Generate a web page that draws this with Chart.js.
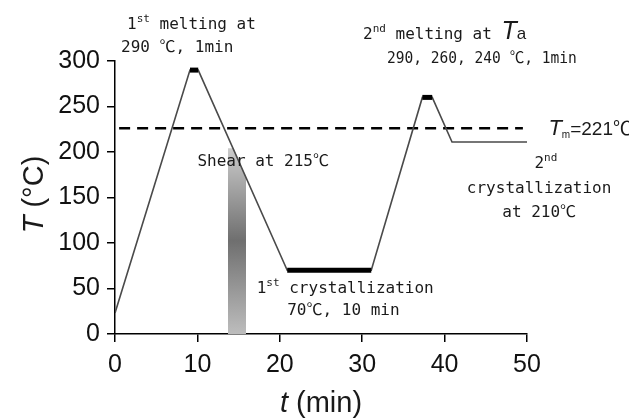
<!DOCTYPE html>
<html lang="en">
<head>
    <meta charset="UTF-8">
    <title>Thermal protocol</title>
    <style>
        body{
            margin: 0;
            background: #ffffff;
        }
    </style>
</head>
<body>
    <canvas id="grafik" width="629" height="418"></canvas>

    <script src="https://cdn.jsdelivr.net/npm/chart.js"></script>

    <script>
        // temperature program, t in min, T in degC
        const curveTime = [0, 9.1, 10.1, 20.9, 31.1, 37.3, 38.5, 40.9, 50]
        const curveTemp = [23, 290, 290, 70, 70, 260, 260, 211, 211]

        // isothermal holds drawn thick
        const hold1Time = [9.1, 10.1]
        const hold1Temp = [290, 290]
        const hold2Time = [20.9, 31.1]
        const hold2Temp = [70, 70]
        const hold3Time = [37.3, 38.5]
        const hold3Temp = [260, 260]

        // Tm line
        const tmTime = [0.5, 49.5]
        const tmTemp = [226, 226]

        // shear window
        const shearTime = [13.7, 14.4, 15.9]
        const shearTemp = [204, 204, 172]

        const xTicks = [0, 10, 20, 30, 40, 50]
        const yTicks = [0, 50, 100, 150, 200, 250, 300]

        function pts(xs, ys){
            return xs.map((x, i) => ({x: x, y: ys[i]}))
        }

        const mono = '"DejaVu Sans Mono", monospace'
        const sans = '"Liberation Sans", Arial, sans-serif'
        const cjk = '"Noto Sans CJK JP", sans-serif'
        const st = {
            m:   {font: '16px ' + mono, dy: 0},
            c:   {font: '16px ' + cjk, dy: 0},
            sup: {font: '11px ' + mono, dy: -7},
            ti:  {font: 'italic 25px ' + sans, dy: 0},
            a:   {font: '17px ' + sans, dy: 0},
            tm:  {font: 'italic 22px ' + sans, dy: 0},
            sub: {font: '10px ' + sans, dy: 3},
            s20: {font: '19px ' + sans, dy: 0},
            c20: {font: '19px ' + cjk, dy: 0}
        }

        // notes, anchored in data coordinates (left, baseline)
        const notes = [
            {t: 1.46, T: 335, runs: [['1','m'],['st','sup'],[' melting at','m']]},
            {t: 0.73, T: 310, runs: [['290 ','m'],['℃','c'],[', 1min','m']]},
            {t: 30.1, T: 324, runs: [['2','m'],['nd','sup'],[' melting at ','m'],['T','ti'],['a','a']]},
            {t: 33.0, T: 298, sx: 0.91, runs: [['290, 260, 240 ','m'],['℃','c'],[', 1min','m']]},
            {t: 52.6, T: 219, runs: [['T','tm'],['m','sub'],['=221','s20'],['℃','c20']]},
            {t: 50.9, T: 182, runs: [['2','m'],['nd','sup']]},
            {t: 42.7, T: 155, runs: [['crystallization','m']]},
            {t: 47.0, T: 129, runs: [['at 210','m'],['℃','c']]},
            {t: 10.0, T: 185, runs: [['Shear at 215','m'],['℃','c']]},
            {t: 17.2, T: 45,  runs: [['1','m'],['st','sup'],[' crystallization','m']]},
            {t: 20.9, T: 21,  runs: [['70','m'],['℃','c'],[', 10 min','m']]}
        ]

        const notesPlugin = {
            id: 'notes',
            afterDraw(chart){
                const c = chart.ctx
                const xs = chart.scales.x
                const ys = chart.scales.y
                c.save()
                c.fillStyle = '#1a1a1a'
                c.textBaseline = 'alphabetic'
                c.textAlign = 'left'
                notes.forEach(n => {
                    c.save()
                    c.translate(xs.getPixelForValue(n.t), ys.getPixelForValue(n.T))
                    c.scale(n.sx || 1, 1)
                    let px = 0
                    n.runs.forEach(r => {
                        const s = st[r[1]]
                        c.font = s.font
                        c.fillText(r[0], px, s.dy)
                        px += c.measureText(r[0]).width
                    })
                    c.restore()
                })

                // axis titles
                c.font = 'italic 29px ' + sans
                const tw = c.measureText('t').width
                c.font = '29px ' + sans
                const rw = c.measureText(' (min)').width
                let x0 = (xs.left + xs.right) / 2 - (tw + rw) / 2
                c.font = 'italic 29px ' + sans
                c.fillText('t', x0, 412)
                c.font = '29px ' + sans
                c.fillText(' (min)', x0 + tw, 412)

                c.translate(43, (ys.top + ys.bottom) / 2 - 3)
                c.rotate(-Math.PI / 2)
                c.font = 'italic 29px ' + sans
                const Tw = c.measureText('T').width
                c.font = '29px ' + sans
                const cw = c.measureText(' (°C)').width
                x0 = -(Tw + cw) / 2
                c.font = 'italic 29px ' + sans
                c.fillText('T', x0, 0)
                c.font = '29px ' + sans
                c.fillText(' (°C)', x0 + Tw, 0)
                c.restore()
            }
        }

        const ctx = document.getElementById('grafik')

        new Chart(ctx, {
            type: 'line',
            data: {
                datasets: [
                    {
                        data: pts(hold1Time, hold1Temp),
                        borderColor: '#000000',
                        borderWidth: 5,
                        pointRadius: 0,
                        order: 0
                    },
                    {
                        data: pts(hold2Time, hold2Temp),
                        borderColor: '#000000',
                        borderWidth: 5,
                        pointRadius: 0,
                        order: 0
                    },
                    {
                        data: pts(hold3Time, hold3Temp),
                        borderColor: '#000000',
                        borderWidth: 5,
                        pointRadius: 0,
                        order: 0
                    },
                    {
                        data: pts(curveTime, curveTemp),
                        borderColor: '#4a4a4a',
                        borderWidth: 1.6,
                        pointRadius: 0,
                        order: 1
                    },
                    {
                        data: pts(tmTime, tmTemp),
                        borderColor: '#000000',
                        borderWidth: 2.5,
                        borderDash: [11, 7],
                        pointRadius: 0,
                        order: 2
                    },
                    {
                        data: pts(shearTime, shearTemp),
                        borderWidth: 0,
                        pointRadius: 0,
                        fill: 'origin',
                        order: 3,
                        backgroundColor: function(context){
                            const chart = context.chart
                            if(!chart.chartArea) return '#999999'
                            const y = chart.scales.y
                            const g = chart.ctx.createLinearGradient(0, y.getPixelForValue(205), 0, y.getPixelForValue(0))
                            g.addColorStop(0, '#cccccc')
                            g.addColorStop(0.5, '#6f6f6f')
                            g.addColorStop(1, '#bdbdbd')
                            return g
                        }
                    }
                ]
            },
            options: {
                responsive: false,
                devicePixelRatio: 1,
                animation: false,
                layout: {
                    padding: {left: 0, right: 102, top: 61, bottom: 0}
                },
                plugins: {
                    legend: {display: false},
                    tooltip: {enabled: false}
                },
                elements: {
                    line: {tension: 0}
                },
                scales: {
                    x: {
                        type: 'linear',
                        min: 0,
                        max: 50,
                        afterFit: s => { s.height = 84 },
                        afterBuildTicks: s => { s.ticks = xTicks.map(v => ({value: v})) },
                        grid: {drawOnChartArea: false, drawTicks: true, tickLength: 8, color: '#000000', lineWidth: 1.5},
                        border: {color: '#000000', width: 1.5},
                        ticks: {
                            padding: 8,
                            color: '#111111',
                            font: {family: sans, size: 25}
                        }
                    },
                    y: {
                        min: 0,
                        max: 300,
                        afterFit: s => { s.width = 115 },
                        afterBuildTicks: s => { s.ticks = yTicks.map(v => ({value: v})) },
                        grid: {drawOnChartArea: false, drawTicks: true, tickLength: 8, color: '#000000', lineWidth: 1.5},
                        border: {color: '#000000', width: 1.5},
                        ticks: {
                            padding: 7,
                            color: '#111111',
                            font: {family: sans, size: 25}
                        }
                    }
                }
            },
            plugins: [notesPlugin]
        })
    </script>
</body>
</html>
